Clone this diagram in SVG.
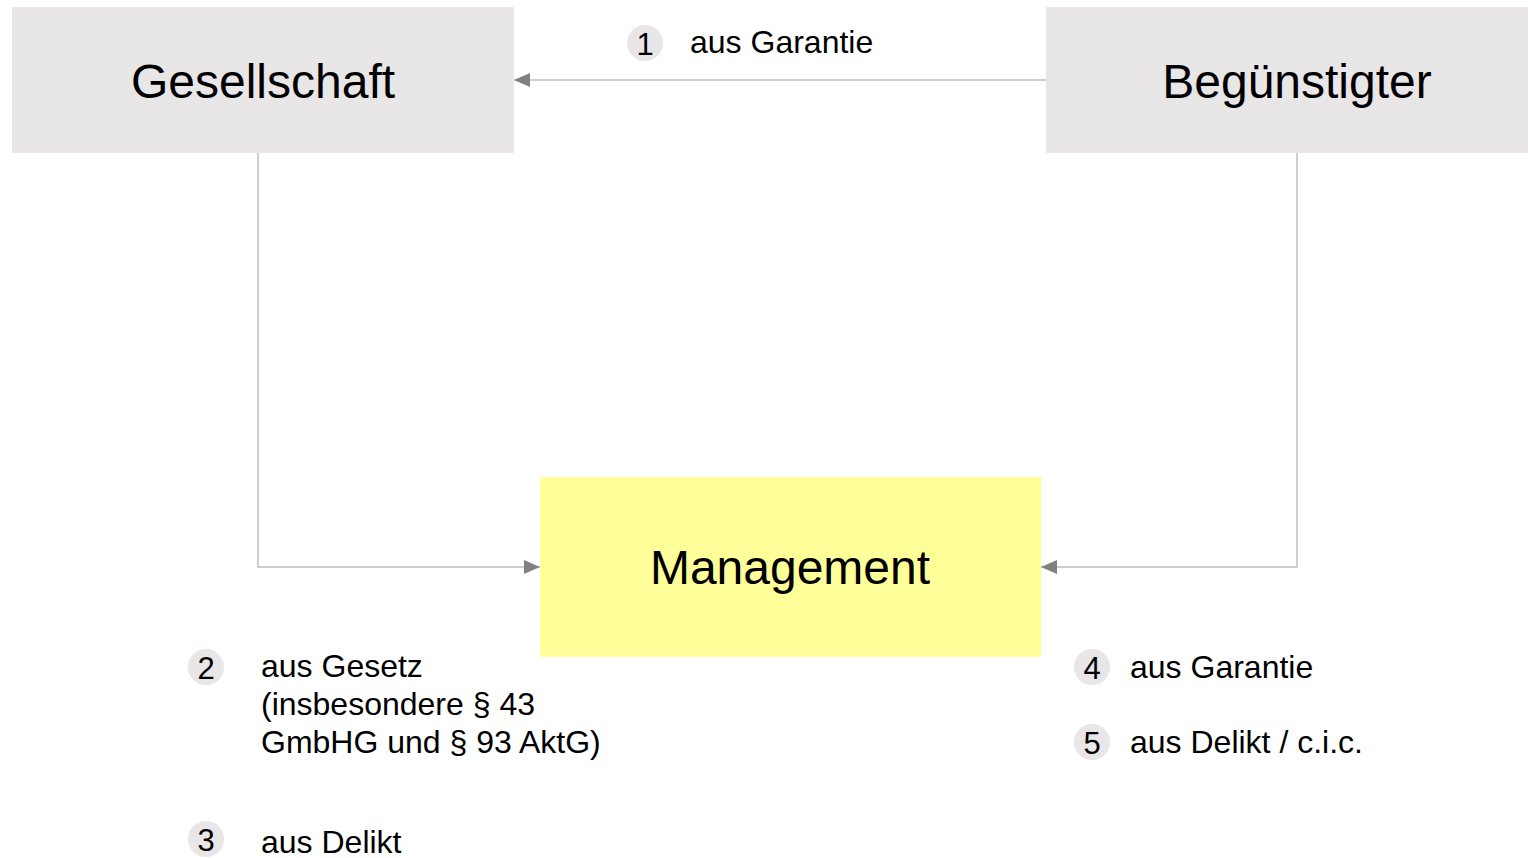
<svg xmlns="http://www.w3.org/2000/svg" width="1528" height="858" viewBox="0 0 1528 858">
<style>
.box{fill:#E8E6E7}
.mgmt{fill:#FFFF99}
.big{font-family:"Liberation Sans",Arial,sans-serif;font-size:48px;fill:#000;text-anchor:middle}
.lbl{font-family:"Liberation Sans",Arial,sans-serif;font-size:32px;fill:#000}
.num{font-family:"Liberation Sans",Arial,sans-serif;font-size:31px;fill:#000;text-anchor:middle}
.badge{fill:#E8E6E7}
.conn{fill:none;stroke:#BFBFBF;stroke-width:1.5}
</style>
<defs>
<marker id="arr" viewBox="0 0 16 14" refX="16" refY="7" markerWidth="16" markerHeight="14" markerUnits="userSpaceOnUse" orient="auto">
<path d="M0,0 L16,7 L0,14 Z" fill="#808080"/>
</marker>
</defs>
<rect width="1528" height="858" fill="#fff"/>
<g id="connectors">
<path class="conn" d="M1046,80 H514" marker-end="url(#arr)"/>
<path class="conn" d="M258,153 V567 H540" marker-end="url(#arr)"/>
<path class="conn" d="M1297,153 V567 H1041" marker-end="url(#arr)"/>
</g>
<g id="gesellschaft">
<rect class="box" x="12" y="7" width="502" height="146"/>
<text class="big" x="263" y="98">Gesellschaft</text>
</g>
<g id="beguenstigter">
<rect class="box" x="1046" y="7" width="482" height="146"/>
<text class="big" x="1297" y="98">Begünstigter</text>
</g>
<g id="management">
<rect class="mgmt" x="540" y="477" width="501" height="180"/>
<text class="big" x="790" y="584">Management</text>
</g>
<g id="label1">
<circle class="badge" cx="645" cy="43" r="18"/>
<text class="num" x="645" y="55">1</text>
<text class="lbl" x="690" y="53">aus Garantie</text>
</g>
<g id="label2">
<circle class="badge" cx="206" cy="667" r="18"/>
<text class="num" x="206" y="679">2</text>
<text class="lbl" x="261" y="677">aus Gesetz</text>
<text class="lbl" x="261" y="715">(insbesondere § 43</text>
<text class="lbl" x="261" y="753">GmbHG und § 93 AktG)</text>
</g>
<g id="label3">
<circle class="badge" cx="206" cy="839" r="18"/>
<text class="num" x="206" y="851">3</text>
<text class="lbl" x="261" y="853">aus Delikt</text>
</g>
<g id="label4">
<circle class="badge" cx="1092" cy="667" r="18"/>
<text class="num" x="1092" y="679">4</text>
<text class="lbl" x="1130" y="678">aus Garantie</text>
</g>
<g id="label5">
<circle class="badge" cx="1092" cy="742" r="18"/>
<text class="num" x="1092" y="754">5</text>
<text class="lbl" x="1130" y="753">aus Delikt / c.i.c.</text>
</g>
</svg>
